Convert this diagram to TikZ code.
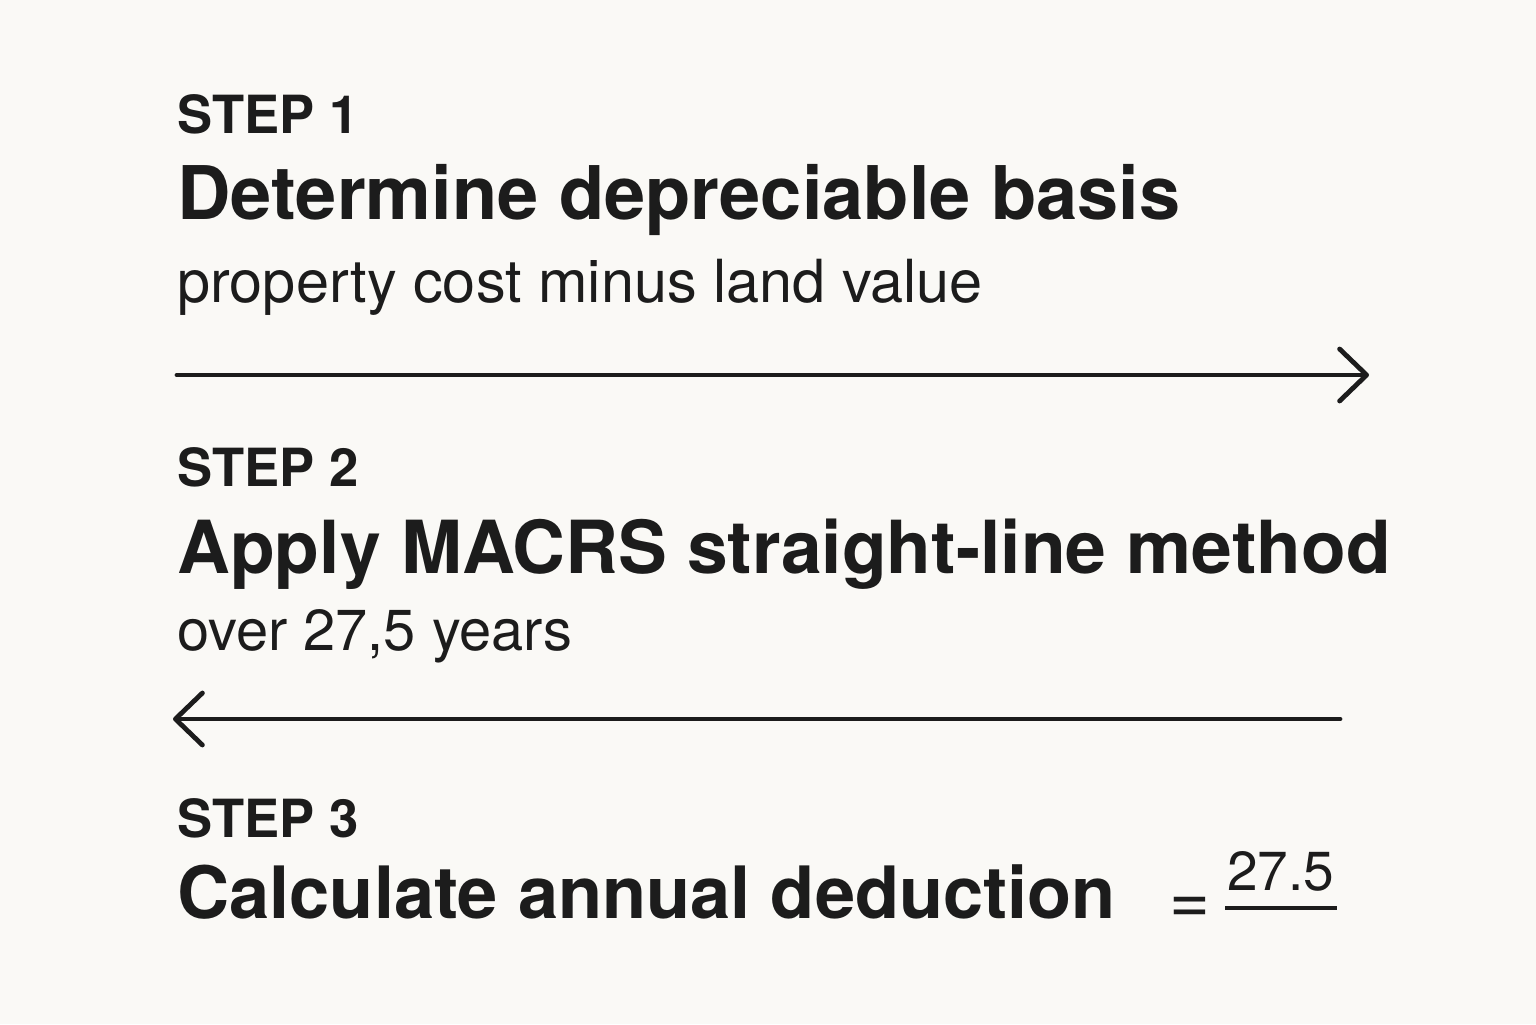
\documentclass[tikz,border=0pt]{standalone}
\usepackage{fontspec}
\setmainfont{TeX Gyre Heros}
\usetikzlibrary{arrows.meta}
\definecolor{paper}{HTML}{FAF9F6}
\definecolor{ink}{HTML}{1C1C1C}

\begin{document}
\begin{tikzpicture}[x=0.5pt, y=-0.5pt,
    steplabel/.style={anchor=base west, inner sep=0pt, text=ink,
      font=\fontsize{26.3}{30}\selectfont\bfseries},
    headline/.style={anchor=base west, inner sep=0pt, text=ink,
      font=\fontsize{#1}{42}\selectfont\bfseries},
    headline/.default=37,
    subline/.style={anchor=base west, inner sep=0pt, text=ink,
      font=\fontsize{#1}{34}\selectfont},
    subline/.default=29.7,
    flowarrow/.style={draw=ink, line width=2.4pt, line cap=round,
      -{Straight Barb[length=13.5pt, width=26pt, round]}}]
  % Background
  \fill[paper] (0,0) rectangle (1536,1024);
  \useasboundingbox (0,0) rectangle (1536,1024);

  % Step 1
  \node[steplabel] (step1) at (177,133) {STEP 1};
  \node[headline] (head1) at (177,219) {Determine depreciable basis};
  \node[subline] (sub1) at (177,302) {property cost minus land value};

  % Arrow to the right
  \coordinate (a1start) at (177,375);
  \coordinate (a1end) at (1369,375);
  \draw[flowarrow] (a1start) -- (a1end);

  % Step 2
  \node[steplabel] (step2) at (177,486) {STEP 2};
  \node[headline=36.6] (head2) at (177,573) {Apply MACRS straight-line method};
  \node[subline=28.9] (sub2) at (177,650) {over 27,5 years};

  % Arrow to the left
  \coordinate (a2start) at (1340,719);
  \coordinate (a2end) at (173,719);
  \draw[flowarrow] (a2start) -- (a2end);

  % Step 3
  \node[steplabel] (step3) at (177,837) {STEP 3};
  \node[headline=36.1] (head3) at (177,918) {Calculate annual deduction};

  % Fraction
  \node[text=ink, inner sep=0pt, font=\fontsize{35}{38}\selectfont] (eq) at (1190,910) {=};
  \node[anchor=base west, inner sep=0pt, text=ink, font=\fontsize{27.5}{30}\selectfont] (num) at (1227,890) {27.5};
  \coordinate (fracl) at (1225,908);
  \coordinate (fracr) at (1337,908);
  \draw[ink, line width=1.6pt] (fracl) -- (fracr);
\end{tikzpicture}
\end{document}
